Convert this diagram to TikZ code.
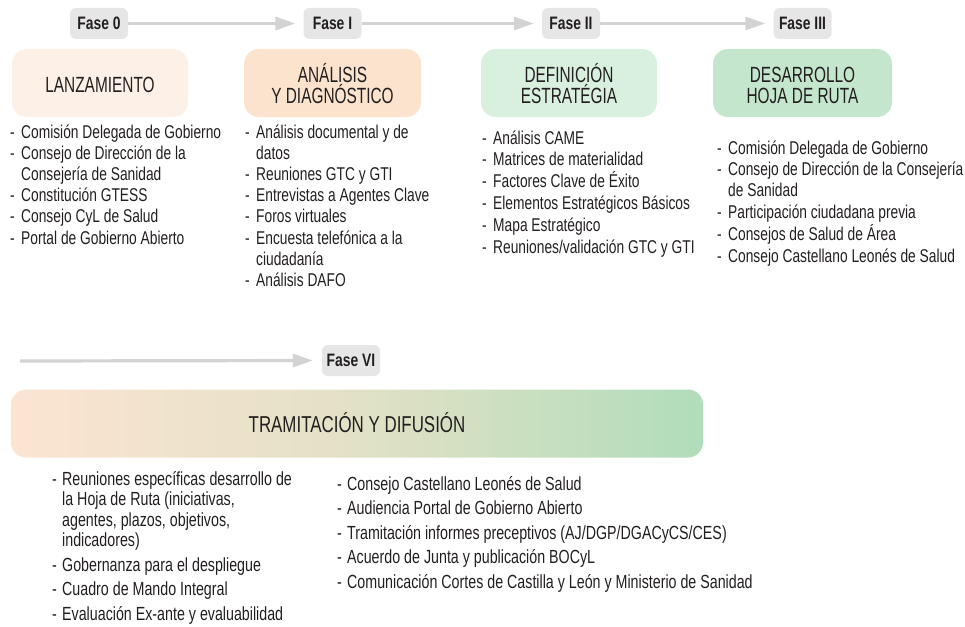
\documentclass[tikz,border=0pt]{standalone}
\usepackage{fontspec}
\setmainfont{Liberation Sans}
\newfontfamily\bodyf{Liberation Sans}[FakeStretch=0.745]
\newfontfamily\botf{Liberation Sans}[FakeStretch=0.75]
\newfontfamily\titf{Liberation Sans}[FakeStretch=0.70]
\newfontfamily\tramf{Liberation Sans}[FakeStretch=0.735]
\newfontfamily\fasf{Liberation Sans}[FakeStretch=0.77]
\usetikzlibrary{arrows.meta}
\definecolor{txt}{HTML}{231F20}
\definecolor{fasegray}{HTML}{E6E6E6}
\definecolor{linegray}{HTML}{D3D3D3}
\definecolor{cz}{HTML}{FDF1E7}
\definecolor{ci}{HTML}{FCE3CD}
\definecolor{cii}{HTML}{DAF0DF}
\definecolor{ciii}{HTML}{C3E6CC}
\definecolor{gA}{HTML}{FCE4D2}
\definecolor{gB}{HTML}{E2E1C5}
\definecolor{gC}{HTML}{B0DDBB}
\newlength{\dashw}
\setlength{\dashw}{11pt}
\newcommand{\litem}[1]{\par\hangindent=\dashw\hangafter=1\noindent\makebox[\dashw][l]{-}#1\par}
\newcommand{\collist}[6]{\parbox[t]{#1}{#6\fontsize{#2}{#3}\selectfont\raggedright\setlength{\parskip}{#4}#5}}
\newcommand{\ttlbox}[1]{\parbox[t]{176pt}{\centering\titf\fontsize{22}{21}\selectfont #1}}
\tikzset{
  fase/.style={fill=fasegray, rounded corners=6pt, minimum width=58pt, minimum height=31pt, inner sep=0pt, text=txt, font=\fasf\bfseries\fontsize{18}{20}\selectfont},
  phasebox/.style={rounded corners=15pt, minimum width=176pt, minimum height=68pt, inner sep=0pt},
  ttl/.style={anchor=base, inner sep=0pt, text=txt},
  lst/.style={anchor=base west, inner sep=0pt, text=txt},
  arr/.style={draw=linegray, line width=3.2pt, -{Triangle[length=20pt,width=13pt]}}
}
\begin{document}
\begin{tikzpicture}[x=1pt,y=-1pt]
\useasboundingbox (0,0) rectangle (965,626);
% phase labels
\node[fase] (f0) at (99,23.5) {Fase 0};
\node[fase] (f1) at (332.5,23.5) {Fase I};
\node[fase] (f2) at (571,23.5) {Fase II};
\node[fase] (f3) at (802.5,23.5) {Fase III};
\node[fase] (f6) at (351,360.5) {Fase VI};
\coordinate (s6) at (20,361);
\draw[arr] (f0.east) -- ([xshift=-8pt]f1.west);
\draw[arr] (f1.east) -- ([xshift=-8pt]f2.west);
\draw[arr] (f2.east) -- ([xshift=-8pt]f3.west);
\draw[arr] (s6) -- ([xshift=-9pt]f6.west);
% phase boxes
\node[phasebox, fill=cz] (b0) at (100,83) {};
\node[phasebox, fill=ci, minimum width=177pt] (b1) at (332.5,83) {};
\node[phasebox, fill=cii] (b2) at (569,83) {};
\node[phasebox, fill=ciii, minimum width=179pt] (b3) at (802.5,83) {};
\node[rounded corners=15pt, minimum width=692pt, minimum height=68pt, inner sep=0pt,
      left color=gA, right color=gC, middle color=gB] (b6) at (357,423.5) {};
% titles
\node[ttl] (t0) at (100,92.5) {\ttlbox{LANZAMIENTO}};
\node[ttl] (t1) at (332.5,82) {\ttlbox{ANÁLISIS\\Y DIAGNÓSTICO}};
\node[ttl] (t2) at (569,82) {\ttlbox{DEFINICIÓN\\ESTRATÉGIA}};
\node[ttl] (t3) at (802.5,82) {\ttlbox{DESARROLLO\\HOJA DE RUTA}};
\node[ttl, font=\tramf\fontsize{23}{24}\selectfont] (t6) at (357,432) {TRAMITACIÓN Y DIFUSIÓN};
% lists
\node[lst] (l0) at (10,138) {\collist{230pt}{18.5}{21.2pt}{0pt}{%
\litem{Comisión Delegada de Gobierno}
\litem{Consejo de Dirección de la\newline Consejería de Sanidad}
\litem{Constitución GTESS}
\litem{Consejo CyL de Salud}
\litem{Portal de Gobierno Abierto}}{\bodyf}};
\node[lst] (l1) at (245,138) {\collist{230pt}{18.5}{21.2pt}{0pt}{%
\litem{Análisis documental y de\newline datos}
\litem{Reuniones GTC y GTI}
\litem{Entrevistas a Agentes Clave}
\litem{Foros virtuales}
\litem{Encuesta telefónica a la\newline ciudadanía}
\litem{Análisis DAFO}}{\bodyf}};
\node[lst] (l2) at (482,144) {\collist{230pt}{18.5}{21.8pt}{0pt}{%
\litem{Análisis CAME}
\litem{Matrices de materialidad}
\litem{Factores Clave de Éxito}
\litem{Elementos Estratégicos Básicos}
\litem{Mapa Estratégico}
\litem{Reuniones/validación GTC y GTI}}{\bodyf}};
\node[lst] (l3) at (717,154) {\collist{250pt}{18.5}{20.8pt}{1pt}{%
\litem{Comisión Delegada de Gobierno}
\litem{Consejo de Dirección de la Consejería\newline de Sanidad}
\litem{Participación ciudadana previa}
\litem{Consejos de Salud de Área}
\litem{Consejo Castellano Leonés de Salud}}{\bodyf}};
\setlength{\dashw}{10pt}
\node[lst] (l6a) at (52,485) {\collist{260pt}{19}{20.5pt}{4pt}{%
\litem{Reuniones específicas desarrollo de\newline la Hoja de Ruta (iniciativas,\newline agentes, plazos, objetivos,\newline indicadores)}
\litem{Gobernanza para el despliegue}
\litem{Cuadro de Mando Integral}
\litem{Evaluación Ex-ante y evaluabilidad}}{\botf}};
\node[lst] (l6b) at (337,490) {\collist{450pt}{19}{24.5pt}{0pt}{%
\litem{Consejo Castellano Leonés de Salud}
\litem{Audiencia Portal de Gobierno Abierto}
\litem{Tramitación informes preceptivos (AJ/DGP/DGACyCS/CES)}
\litem{Acuerdo de Junta y publicación BOCyL}
\litem{Comunicación Cortes de Castilla y León y Ministerio de Sanidad}}{\botf}};
\end{tikzpicture}
\end{document}
